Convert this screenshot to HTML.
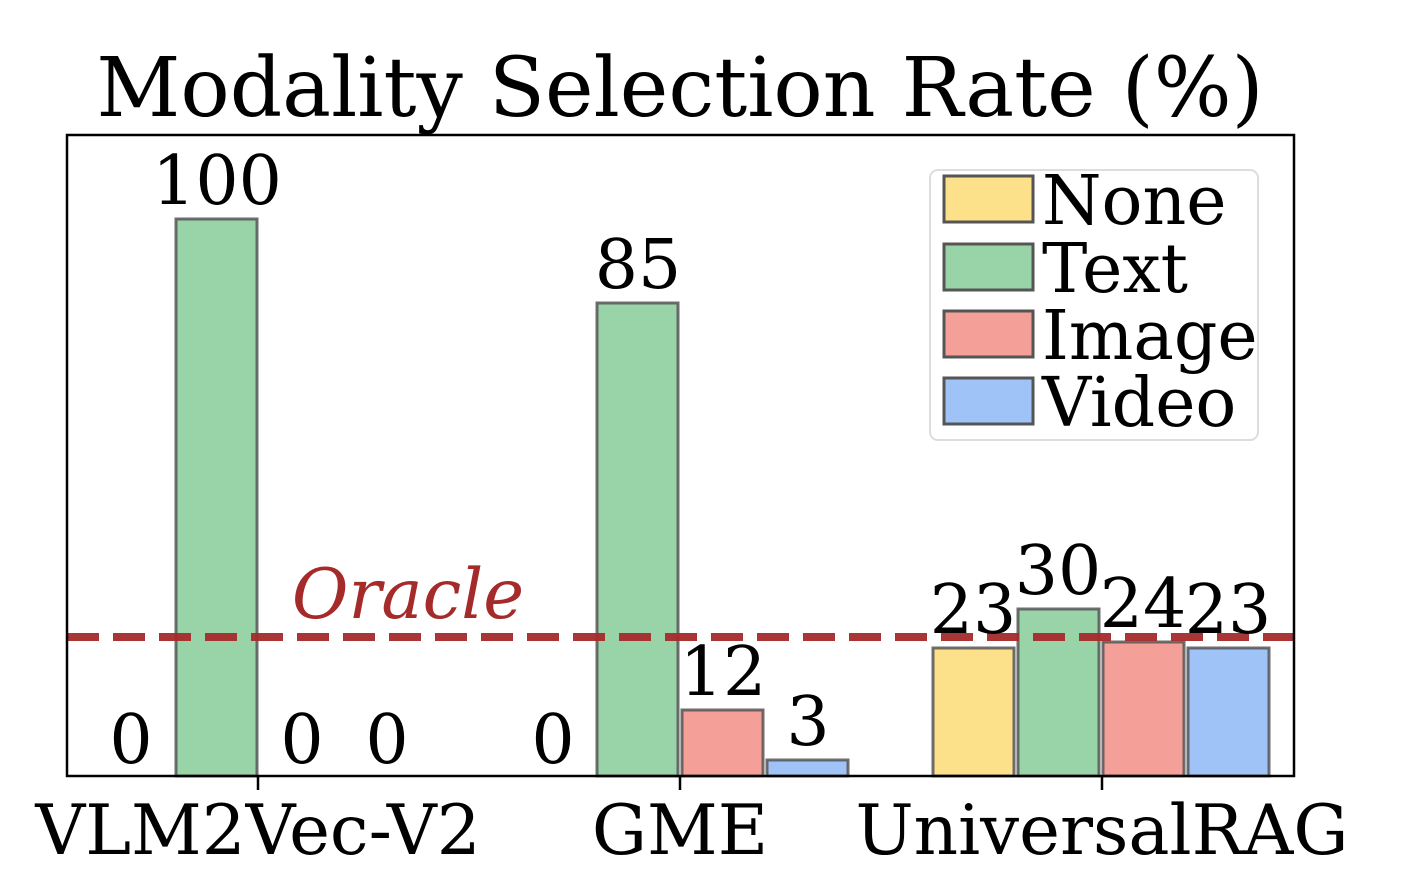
<!DOCTYPE html>
<html><head><meta charset="utf-8"><style>
html,body{margin:0;padding:0;background:#fff;}
svg{display:block;}
text{font-family:"DejaVu Serif","Liberation Serif",serif;fill:#000;}
</style></head><body>
<svg width="1404" height="892" viewBox="0 0 1404 892" xmlns="http://www.w3.org/2000/svg">
<text x="680" y="116" font-size="82" text-anchor="middle">Modality Selection Rate (%)</text>
<g stroke="#555" stroke-width="3" stroke-opacity="0.85">
<rect x="176" y="219" width="81" height="557" fill="#99d3a8"/>
<rect x="597" y="303" width="81" height="473" fill="#99d3a8"/>
<rect x="682" y="710" width="81" height="66" fill="#f4a099"/>
<rect x="767" y="760" width="81" height="16" fill="#9fc2f7"/>
<rect x="933" y="648" width="81" height="128" fill="#fde08a"/>
<rect x="1018" y="609" width="81" height="167" fill="#99d3a8"/>
<rect x="1103" y="642" width="81" height="134" fill="#f4a099"/>
<rect x="1188" y="648" width="81" height="128" fill="#9fc2f7"/>
</g>
<line x1="67" y1="637" x2="1294" y2="637" stroke="#a52a2a" stroke-width="8" stroke-dasharray="32,14" stroke-opacity="0.95"/>
<text x="408" y="618" font-size="69" font-style="italic" text-anchor="middle" style="fill:#a52a2a">Oracle</text>
<rect x="67" y="135" width="1227" height="641" fill="none" stroke="#000" stroke-width="2.5"/>
<g font-size="68" text-anchor="middle">
<text x="131" y="763">0</text>
<text x="217" y="204">100</text>
<text x="302" y="763">0</text>
<text x="387" y="763">0</text>
<text x="553" y="763">0</text>
<text x="638" y="288">85</text>
<text x="723" y="695">12</text>
<text x="808" y="745">3</text>
<text x="973" y="633">23</text>
<text x="1058" y="594">30</text>
<text x="1143" y="627">24</text>
<text x="1228" y="633">23</text>
</g>
<g stroke="#000" stroke-width="2.5">
<line x1="258" y1="776" x2="258" y2="790"/>
<line x1="680" y1="776" x2="680" y2="790"/>
<line x1="1102" y1="776" x2="1102" y2="790"/>
</g>
<g font-size="69" text-anchor="middle">
<text x="258" y="854">VLM2Vec-V2</text>
<text x="680" y="854">GME</text>
<text x="1102" y="854">UniversalRAG</text>
</g>
<rect x="930" y="170" width="328" height="270" rx="8" fill="#fff" fill-opacity="0.8" stroke="#ddd" stroke-width="2"/>
<g stroke="#555" stroke-width="3">
<rect x="944" y="176" width="89" height="46" fill="#fde08a"/>
<rect x="944" y="244" width="89" height="46" fill="#99d3a8"/>
<rect x="944" y="311" width="89" height="46" fill="#f4a099"/>
<rect x="944" y="378" width="89" height="46" fill="#9fc2f7"/>
</g>
<g font-size="68">
<text x="1042" y="224">None</text>
<text x="1042" y="292">Text</text>
<text x="1042" y="359">Image</text>
<text x="1042" y="426">Video</text>
</g>
</svg>
</body></html>
